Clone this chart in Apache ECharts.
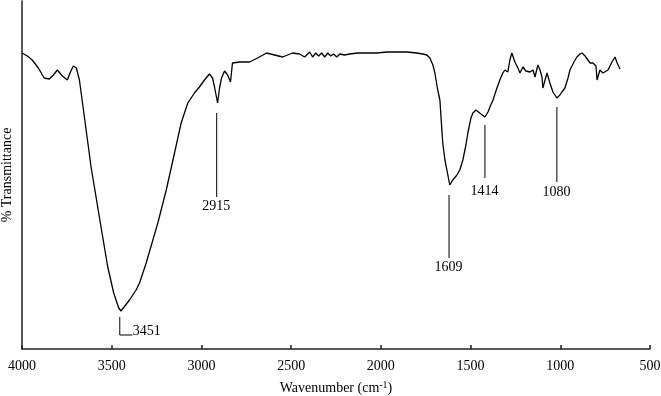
<!DOCTYPE html>
<html>
<head>
<meta charset="utf-8">
<script src="https://cdn.jsdelivr.net/npm/echarts@6/dist/echarts.min.js"></script>
<style>
html,body{margin:0;padding:0;background:#fff;}
#chart{width:661px;height:396px;}
</style>
</head>
<body>
<div id="chart"></div>
<script>
// Spectrum (wavenumber, transmittance in arbitrary units)
var spectrumWn = [4000,3970,3943,3909,3876,3848,3825,3803,3775,3747,3730,3714,3697,3680,3665,3615,3554,3522,3489,3461,3448,3401,3364,3345,3308,3243,3196,3150,3113,3076,3039,3011,2983,2955,2938,2927,2910,2899,2888,2871,2854,2838,2827,2787,2732,2687,2637,2592,2548,2492,2453,2425,2414,2397,2380,2363,2347,2330,2313,2296,2280,2263,2246,2229,2202,2174,2129,2079,2023,1967,1911,1856,1800,1766,1744,1727,1710,1699,1683,1671,1660,1655,1643,1632,1616,1599,1576,1560,1543,1526,1515,1498,1487,1470,1459,1442,1420,1403,1392,1375,1353,1337,1320,1309,1292,1281,1270,1253,1236,1225,1208,1192,1169,1152,1141,1125,1113,1102,1097,1085,1074,1058,1041,1019,1002,991,974,957,946,924,907,891,879,862,851,834,818,801,795,779,762,751,734,712,695,683,667];
var spectrumT = [296,293,289,281,271,270,274,279,273,269,277,283,281,269,249,182,116,82,56,41,38,49,59,66,86,126,159,196,226,246,256,262,269,275,271,262,246,261,271,278,274,267,286,287,287,291,296,294,292,296,295,292,294,297,292,296,293,296,292,296,293,295,292,295,294,295,296,296,296,297,297,297,296,295,294,291,284,276,259,249,219,206,189,179,164,169,174,179,189,204,216,231,236,239,238,235,232,237,242,249,261,269,276,279,277,289,296,287,281,276,282,278,277,279,272,284,279,272,261,269,276,266,257,251,254,257,261,271,279,287,292,295,296,293,292,286,286,283,269,279,276,274,279,287,292,286,280];

// Peak annotations (label text, leader-line position, line ends, label height)
var peakLabels = ['3451','2915','1609','1414','1080'];
var peakX      = [3455, 2915, 1620, 1420, 1019];
var lineTop    = [32, 236, 154, 224, 242];
var lineBottom = [14, 152, 91, 171, 167];
var labelY     = [17, 142, 81, 157, 156];
var hookEndX   = 3385; // short horizontal foot under the 3451 leader

var FONT = '"Liberation Serif", "DejaVu Serif", serif';

var series = [{
  type: 'line',
  data: spectrumWn.map(function (w, i) { return [w, spectrumT[i]]; }),
  showSymbol: false,
  symbol: 'none',
  lineStyle: { color: '#000', width: 1.3 },
  animation: false,
  z: 3
}];

peakLabels.forEach(function (lab, i) {
  var pts = [[peakX[i], lineTop[i]], [peakX[i], lineBottom[i]]];
  if (i === 0) pts.push([hookEndX, lineBottom[i]]);
  series.push({
    type: 'line',
    data: pts,
    symbol: 'none',
    lineStyle: { color: '#000', width: 1 },
    animation: false,
    z: 2
  });
});

series.push({
  type: 'scatter',
  symbol: 'circle',
  symbolSize: 1,
  itemStyle: { color: 'rgba(0,0,0,0)', opacity: 1 },
  animation: false,
  silent: true,
  data: peakLabels.map(function (lab, i) {
    var isFirst = i === 0;
    return {
      value: [isFirst ? hookEndX - 5 : peakX[i], labelY[i]],
      label: {
        show: true,
        formatter: lab,
        position: [0, 0],
        align: isFirst ? 'left' : 'center',
        verticalAlign: 'middle',
        color: '#000',
        opacity: 1,
        fontFamily: FONT,
        fontSize: 14
      }
    };
  })
});

var chart = echarts.init(document.getElementById('chart'), null, { renderer: 'canvas' });
chart.setOption({
  backgroundColor: '#fff',
  animation: false,
  grid: { left: 22, right: 11, top: 1, bottom: 47, containLabel: false, outerBoundsMode: 'none' },
  xAxis: {
    type: 'value',
    inverse: true,
    min: 500,
    max: 4000,
    interval: 500,
    splitLine: { show: false },
    axisLine: { show: true, onZero: false, lineStyle: { color: '#222', width: 1.5 } },
    axisTick: { show: true, inside: true, length: 4, lineStyle: { color: '#222', width: 1.5 } },
    axisLabel: { color: '#000', fontFamily: FONT, fontSize: 14, margin: 10, formatter: function (v) { return String(v); } },
    name: 'Wavenumber (cm{sup|-1})',
    nameLocation: 'middle',
    nameGap: 31,
    nameTextStyle: {
      color: '#000', fontFamily: FONT, fontSize: 14,
      rich: { sup: { fontFamily: FONT, fontSize: 10, verticalAlign: 'top', padding: [0, 0, 7, 0], color: '#000' } }
    }
  },
  yAxis: {
    type: 'value',
    min: 0,
    max: 348,
    splitLine: { show: false },
    axisLine: { show: true, onZero: false, lineStyle: { color: '#222', width: 1.5 } },
    axisTick: { show: false },
    axisLabel: { show: false },
    name: '% Transmittance',
    nameLocation: 'middle',
    nameGap: 8,
    nameTextStyle: { color: '#000', fontFamily: FONT, fontSize: 14 }
  },
  series: series
});
</script>
</body>
</html>
